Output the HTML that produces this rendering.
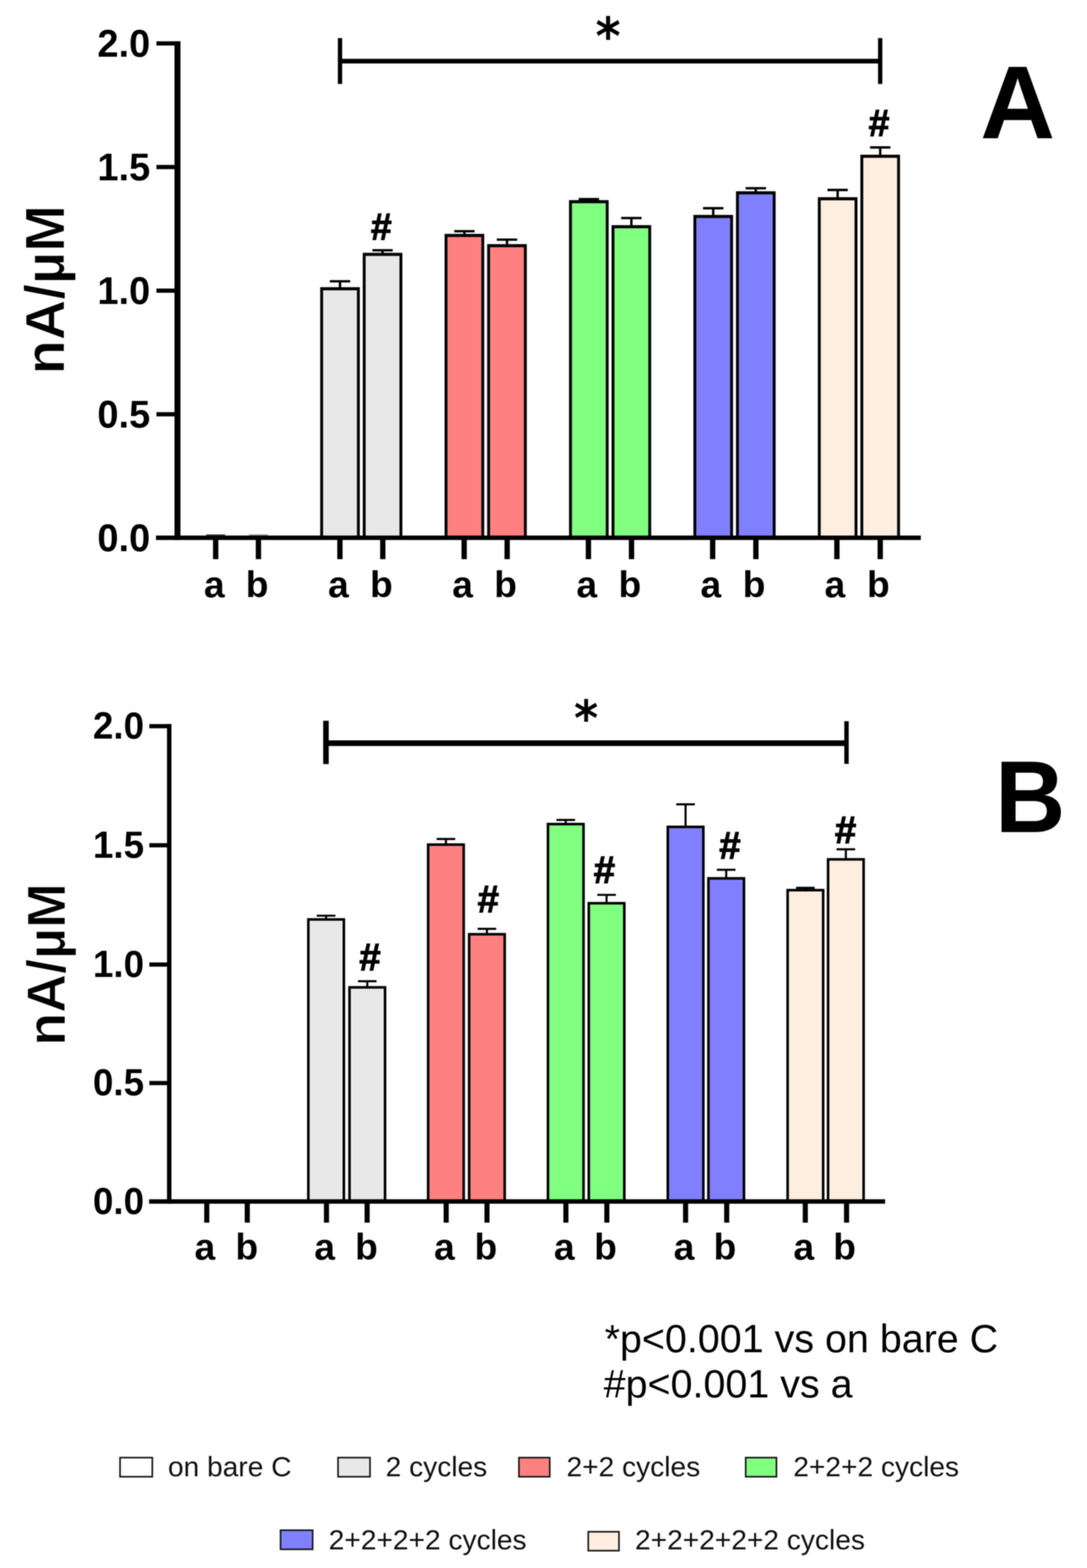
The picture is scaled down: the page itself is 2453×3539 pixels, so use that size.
<!DOCTYPE html><html><head><meta charset="utf-8"><style>html,body{margin:0;padding:0;background:#fff}svg{display:block;filter:blur(0.9px)}text{font-family:'Liberation Sans', Arial, sans-serif}</style></head><body>
<svg width="2453" height="3539" viewBox="0 0 2453 3539">
<rect width="2453" height="3539" fill="#fff"/>
<line x1="767.30" y1="634.90" x2="767.30" y2="649.20" stroke="#000" stroke-width="5.4"/>
<line x1="744.30" y1="634.90" x2="790.30" y2="634.90" stroke="#000" stroke-width="5.4"/>
<rect x="722.6" y="648.2" width="89.4" height="561.8" fill="#000"/>
<rect x="729.1" y="655.2" width="76.4" height="554.8" fill="#E8E8E8"/>
<line x1="863.35" y1="564.90" x2="863.35" y2="571.60" stroke="#000" stroke-width="5.4"/>
<line x1="840.35" y1="564.90" x2="886.35" y2="564.90" stroke="#000" stroke-width="5.4"/>
<rect x="818.6" y="570.6" width="89.4" height="639.4" fill="#000"/>
<rect x="825.1" y="577.6" width="76.4" height="632.4" fill="#E8E8E8"/>
<line x1="1048.04" y1="521.90" x2="1048.04" y2="528.90" stroke="#000" stroke-width="5.4"/>
<line x1="1025.04" y1="521.90" x2="1071.04" y2="521.90" stroke="#000" stroke-width="5.4"/>
<rect x="1003.3" y="527.9" width="89.4" height="682.1" fill="#000"/>
<rect x="1009.8" y="534.9" width="76.4" height="675.1" fill="#FF8080"/>
<line x1="1144.10" y1="540.90" x2="1144.10" y2="552.00" stroke="#000" stroke-width="5.4"/>
<line x1="1121.10" y1="540.90" x2="1167.10" y2="540.90" stroke="#000" stroke-width="5.4"/>
<rect x="1099.4" y="551.0" width="89.4" height="659.0" fill="#000"/>
<rect x="1105.9" y="558.0" width="76.4" height="652.0" fill="#FF8080"/>
<line x1="1328.78" y1="449.35" x2="1328.78" y2="452.70" stroke="#000" stroke-width="5.4"/>
<line x1="1305.78" y1="449.35" x2="1351.78" y2="449.35" stroke="#000" stroke-width="5.4"/>
<rect x="1284.1" y="451.7" width="89.4" height="758.3" fill="#000"/>
<rect x="1290.6" y="458.7" width="76.4" height="751.3" fill="#80FF80"/>
<line x1="1424.85" y1="492.10" x2="1424.85" y2="509.20" stroke="#000" stroke-width="5.4"/>
<line x1="1401.85" y1="492.10" x2="1447.85" y2="492.10" stroke="#000" stroke-width="5.4"/>
<rect x="1380.1" y="508.2" width="89.4" height="701.8" fill="#000"/>
<rect x="1386.6" y="515.2" width="76.4" height="694.8" fill="#80FF80"/>
<line x1="1609.52" y1="470.00" x2="1609.52" y2="486.10" stroke="#000" stroke-width="5.4"/>
<line x1="1586.52" y1="470.00" x2="1632.52" y2="470.00" stroke="#000" stroke-width="5.4"/>
<rect x="1564.8" y="485.1" width="89.4" height="724.9" fill="#000"/>
<rect x="1571.3" y="492.1" width="76.4" height="717.9" fill="#8080FF"/>
<line x1="1705.60" y1="424.90" x2="1705.60" y2="432.70" stroke="#000" stroke-width="5.4"/>
<line x1="1682.60" y1="424.90" x2="1728.60" y2="424.90" stroke="#000" stroke-width="5.4"/>
<rect x="1660.9" y="431.7" width="89.4" height="778.3" fill="#000"/>
<rect x="1667.4" y="438.7" width="76.4" height="771.3" fill="#8080FF"/>
<line x1="1890.26" y1="428.70" x2="1890.26" y2="446.10" stroke="#000" stroke-width="5.4"/>
<line x1="1867.26" y1="428.70" x2="1913.26" y2="428.70" stroke="#000" stroke-width="5.4"/>
<rect x="1845.6" y="445.1" width="89.4" height="764.9" fill="#000"/>
<rect x="1852.1" y="452.1" width="76.4" height="757.9" fill="#FEEEDF"/>
<line x1="1986.35" y1="332.80" x2="1986.35" y2="350.20" stroke="#000" stroke-width="5.4"/>
<line x1="1963.35" y1="332.80" x2="2009.35" y2="332.80" stroke="#000" stroke-width="5.4"/>
<rect x="1941.6" y="349.2" width="89.4" height="860.8" fill="#000"/>
<rect x="1948.1" y="356.2" width="76.4" height="853.8" fill="#FEEEDF"/>
<rect x="465.2" y="1206.0" width="43.0" height="4.0" fill="#444"/>
<rect x="561.7" y="1206.0" width="43.0" height="4.0" fill="#999"/>
<line x1="400.50" y1="93.00" x2="400.50" y2="1219.00" stroke="#000" stroke-width="13.5"/>
<line x1="352.00" y1="1213.80" x2="2078.00" y2="1213.80" stroke="#000" stroke-width="10"/>
<line x1="353.00" y1="98.00" x2="400.50" y2="98.00" stroke="#000" stroke-width="9.7"/>
<line x1="353.00" y1="377.00" x2="400.50" y2="377.00" stroke="#000" stroke-width="9.7"/>
<line x1="353.00" y1="656.00" x2="400.50" y2="656.00" stroke="#000" stroke-width="9.7"/>
<line x1="353.00" y1="935.00" x2="400.50" y2="935.00" stroke="#000" stroke-width="9.7"/>
<line x1="486.70" y1="1213.80" x2="486.70" y2="1262.00" stroke="#000" stroke-width="12"/>
<line x1="583.20" y1="1213.80" x2="583.20" y2="1262.00" stroke="#000" stroke-width="12"/>
<line x1="767.08" y1="1213.80" x2="767.08" y2="1262.00" stroke="#000" stroke-width="12"/>
<line x1="863.84" y1="1213.80" x2="863.84" y2="1262.00" stroke="#000" stroke-width="12"/>
<line x1="1047.46" y1="1213.80" x2="1047.46" y2="1262.00" stroke="#000" stroke-width="12"/>
<line x1="1144.48" y1="1213.80" x2="1144.48" y2="1262.00" stroke="#000" stroke-width="12"/>
<line x1="1327.84" y1="1213.80" x2="1327.84" y2="1262.00" stroke="#000" stroke-width="12"/>
<line x1="1425.12" y1="1213.80" x2="1425.12" y2="1262.00" stroke="#000" stroke-width="12"/>
<line x1="1608.22" y1="1213.80" x2="1608.22" y2="1262.00" stroke="#000" stroke-width="12"/>
<line x1="1705.76" y1="1213.80" x2="1705.76" y2="1262.00" stroke="#000" stroke-width="12"/>
<line x1="1888.60" y1="1213.80" x2="1888.60" y2="1262.00" stroke="#000" stroke-width="12"/>
<line x1="1986.40" y1="1213.80" x2="1986.40" y2="1262.00" stroke="#000" stroke-width="12"/>
<text x="0" y="0" font-size="88" font-weight="bold" text-anchor="end" transform="translate(339 128.3) scale(0.975 1)">2.0</text>
<text x="0" y="0" font-size="88" font-weight="bold" text-anchor="end" transform="translate(339 407.3) scale(0.975 1)">1.5</text>
<text x="0" y="0" font-size="88" font-weight="bold" text-anchor="end" transform="translate(339 686.3) scale(0.975 1)">1.0</text>
<text x="0" y="0" font-size="88" font-weight="bold" text-anchor="end" transform="translate(339 965.3) scale(0.975 1)">0.5</text>
<text x="0" y="0" font-size="88" font-weight="bold" text-anchor="end" transform="translate(339 1244.3) scale(0.975 1)">0.0</text>
<text x="483.6" y="1348.3" font-size="84" font-weight="bold" text-anchor="middle" >a</text>
<text x="580.2" y="1348.3" font-size="84" font-weight="bold" text-anchor="middle" >b</text>
<text x="763.7" y="1348.3" font-size="84" font-weight="bold" text-anchor="middle" >a</text>
<text x="860.6" y="1348.3" font-size="84" font-weight="bold" text-anchor="middle" >b</text>
<text x="1043.8" y="1348.3" font-size="84" font-weight="bold" text-anchor="middle" >a</text>
<text x="1141.0" y="1348.3" font-size="84" font-weight="bold" text-anchor="middle" >b</text>
<text x="1324.0" y="1348.3" font-size="84" font-weight="bold" text-anchor="middle" >a</text>
<text x="1421.3" y="1348.3" font-size="84" font-weight="bold" text-anchor="middle" >b</text>
<text x="1604.1" y="1348.3" font-size="84" font-weight="bold" text-anchor="middle" >a</text>
<text x="1701.7" y="1348.3" font-size="84" font-weight="bold" text-anchor="middle" >b</text>
<text x="1884.2" y="1348.3" font-size="84" font-weight="bold" text-anchor="middle" >a</text>
<text x="1982.1" y="1348.3" font-size="84" font-weight="bold" text-anchor="middle" >b</text>
<line x1="767.30" y1="86.00" x2="767.30" y2="189.50" stroke="#000" stroke-width="9.7"/>
<line x1="1986.30" y1="86.00" x2="1986.30" y2="189.50" stroke="#000" stroke-width="9.7"/>
<line x1="767.30" y1="137.90" x2="1986.30" y2="137.90" stroke="#000" stroke-width="10.5"/>
<text x="0" y="0" font-size="108" font-weight="bold" text-anchor="middle" transform="translate(1372.2 122.2) scale(1 1.07)" style="font-family:'DejaVu Sans', sans-serif">*</text>
<text x="860.5" y="541.2" font-size="84.5" font-weight="bold" text-anchor="middle" stroke="#000" stroke-width="2" stroke-linejoin="miter">#</text>
<text x="1983.7" y="306.5" font-size="84.5" font-weight="bold" text-anchor="middle" stroke="#000" stroke-width="2" stroke-linejoin="miter">#</text>
<text x="0" y="0" font-size="126.5" font-weight="bold" text-anchor="middle" stroke="#fff" stroke-width="2" transform="translate(145.4 653.9) rotate(-90)">nA/µM</text>
<text x="2212" y="311.8" font-size="234" font-weight="bold" text-anchor="start" >A</text>
<line x1="735.90" y1="2066.75" x2="735.90" y2="2073.30" stroke="#000" stroke-width="4.7"/>
<line x1="714.90" y1="2066.75" x2="756.90" y2="2066.75" stroke="#000" stroke-width="4.7"/>
<rect x="692.9" y="2072.3" width="86.0" height="635.7" fill="#000"/>
<rect x="698.7" y="2078.1" width="74.4" height="629.9" fill="#E8E8E8"/>
<line x1="828.80" y1="2214.60" x2="828.80" y2="2226.60" stroke="#000" stroke-width="4.7"/>
<line x1="807.80" y1="2214.60" x2="849.80" y2="2214.60" stroke="#000" stroke-width="4.7"/>
<rect x="785.8" y="2225.6" width="86.0" height="482.4" fill="#000"/>
<rect x="791.6" y="2231.4" width="74.4" height="476.6" fill="#E8E8E8"/>
<line x1="1006.29" y1="1893.70" x2="1006.29" y2="1904.40" stroke="#000" stroke-width="4.7"/>
<line x1="985.29" y1="1893.70" x2="1027.29" y2="1893.70" stroke="#000" stroke-width="4.7"/>
<rect x="963.3" y="1903.4" width="86.0" height="804.6" fill="#000"/>
<rect x="969.1" y="1909.2" width="74.4" height="798.8" fill="#FF8080"/>
<line x1="1098.80" y1="2096.35" x2="1098.80" y2="2106.70" stroke="#000" stroke-width="4.7"/>
<line x1="1077.80" y1="2096.35" x2="1119.80" y2="2096.35" stroke="#000" stroke-width="4.7"/>
<rect x="1055.8" y="2105.7" width="86.0" height="602.3" fill="#000"/>
<rect x="1061.6" y="2111.5" width="74.4" height="596.5" fill="#FF8080"/>
<line x1="1276.68" y1="1850.55" x2="1276.68" y2="1858.10" stroke="#000" stroke-width="4.7"/>
<line x1="1255.68" y1="1850.55" x2="1297.68" y2="1850.55" stroke="#000" stroke-width="4.7"/>
<rect x="1233.7" y="1857.1" width="86.0" height="850.9" fill="#000"/>
<rect x="1239.5" y="1862.9" width="74.4" height="845.1" fill="#80FF80"/>
<line x1="1368.80" y1="2019.75" x2="1368.80" y2="2036.70" stroke="#000" stroke-width="4.7"/>
<line x1="1347.80" y1="2019.75" x2="1389.80" y2="2019.75" stroke="#000" stroke-width="4.7"/>
<rect x="1325.8" y="2035.7" width="86.0" height="672.3" fill="#000"/>
<rect x="1331.6" y="2041.5" width="74.4" height="666.5" fill="#80FF80"/>
<line x1="1547.07" y1="1815.30" x2="1547.07" y2="1864.40" stroke="#000" stroke-width="4.7"/>
<line x1="1526.07" y1="1815.30" x2="1568.07" y2="1815.30" stroke="#000" stroke-width="4.7"/>
<rect x="1504.1" y="1863.4" width="86.0" height="844.6" fill="#000"/>
<rect x="1509.9" y="1869.2" width="74.4" height="838.8" fill="#8080FF"/>
<line x1="1638.80" y1="1963.05" x2="1638.80" y2="1980.60" stroke="#000" stroke-width="4.7"/>
<line x1="1617.80" y1="1963.05" x2="1659.80" y2="1963.05" stroke="#000" stroke-width="4.7"/>
<rect x="1595.8" y="1979.6" width="86.0" height="728.4" fill="#000"/>
<rect x="1601.6" y="1985.4" width="74.4" height="722.6" fill="#8080FF"/>
<line x1="1817.46" y1="2003.80" x2="1817.46" y2="2007.20" stroke="#000" stroke-width="4.7"/>
<line x1="1796.46" y1="2003.80" x2="1838.46" y2="2003.80" stroke="#000" stroke-width="4.7"/>
<rect x="1774.5" y="2006.2" width="86.0" height="701.8" fill="#000"/>
<rect x="1780.3" y="2012.0" width="74.4" height="696.0" fill="#FEEEDF"/>
<line x1="1908.80" y1="1916.85" x2="1908.80" y2="1937.70" stroke="#000" stroke-width="4.7"/>
<line x1="1887.80" y1="1916.85" x2="1929.80" y2="1916.85" stroke="#000" stroke-width="4.7"/>
<rect x="1865.8" y="1936.7" width="86.0" height="771.3" fill="#000"/>
<rect x="1871.6" y="1942.5" width="74.4" height="765.5" fill="#FEEEDF"/>
<line x1="381.90" y1="1634.00" x2="381.90" y2="2717.00" stroke="#000" stroke-width="10"/>
<line x1="336.50" y1="2711.70" x2="1997.40" y2="2711.70" stroke="#000" stroke-width="10"/>
<line x1="337.00" y1="1638.90" x2="382.00" y2="1638.90" stroke="#000" stroke-width="9.5"/>
<line x1="337.00" y1="1907.80" x2="382.00" y2="1907.80" stroke="#000" stroke-width="9.5"/>
<line x1="337.00" y1="2177.00" x2="382.00" y2="2177.00" stroke="#000" stroke-width="9.5"/>
<line x1="337.00" y1="2444.45" x2="382.00" y2="2444.45" stroke="#000" stroke-width="9.5"/>
<line x1="466.60" y1="2711.70" x2="466.60" y2="2759.50" stroke="#000" stroke-width="11.5"/>
<line x1="558.00" y1="2711.70" x2="558.00" y2="2759.50" stroke="#000" stroke-width="11.5"/>
<line x1="736.74" y1="2711.70" x2="736.74" y2="2759.50" stroke="#000" stroke-width="11.5"/>
<line x1="828.48" y1="2711.70" x2="828.48" y2="2759.50" stroke="#000" stroke-width="11.5"/>
<line x1="1006.88" y1="2711.70" x2="1006.88" y2="2759.50" stroke="#000" stroke-width="11.5"/>
<line x1="1098.96" y1="2711.70" x2="1098.96" y2="2759.50" stroke="#000" stroke-width="11.5"/>
<line x1="1277.02" y1="2711.70" x2="1277.02" y2="2759.50" stroke="#000" stroke-width="11.5"/>
<line x1="1369.44" y1="2711.70" x2="1369.44" y2="2759.50" stroke="#000" stroke-width="11.5"/>
<line x1="1547.16" y1="2711.70" x2="1547.16" y2="2759.50" stroke="#000" stroke-width="11.5"/>
<line x1="1639.92" y1="2711.70" x2="1639.92" y2="2759.50" stroke="#000" stroke-width="11.5"/>
<line x1="1817.30" y1="2711.70" x2="1817.30" y2="2759.50" stroke="#000" stroke-width="11.5"/>
<line x1="1910.40" y1="2711.70" x2="1910.40" y2="2759.50" stroke="#000" stroke-width="11.5"/>
<text x="0" y="0" font-size="85.5" font-weight="bold" text-anchor="end" transform="translate(325 1666.9) scale(0.97 1)">2.0</text>
<text x="0" y="0" font-size="85.5" font-weight="bold" text-anchor="end" transform="translate(325 1935.8) scale(0.97 1)">1.5</text>
<text x="0" y="0" font-size="85.5" font-weight="bold" text-anchor="end" transform="translate(325 2205.0) scale(0.97 1)">1.0</text>
<text x="0" y="0" font-size="85.5" font-weight="bold" text-anchor="end" transform="translate(325 2472.4) scale(0.97 1)">0.5</text>
<text x="0" y="0" font-size="85.5" font-weight="bold" text-anchor="end" transform="translate(325 2739.7) scale(0.97 1)">0.0</text>
<text x="462.3" y="2843" font-size="84" font-weight="bold" text-anchor="middle" >a</text>
<text x="557.0" y="2843" font-size="84" font-weight="bold" text-anchor="middle" >b</text>
<text x="732.6" y="2843" font-size="84" font-weight="bold" text-anchor="middle" >a</text>
<text x="826.8" y="2843" font-size="84" font-weight="bold" text-anchor="middle" >b</text>
<text x="1002.9" y="2843" font-size="84" font-weight="bold" text-anchor="middle" >a</text>
<text x="1096.5" y="2843" font-size="84" font-weight="bold" text-anchor="middle" >b</text>
<text x="1273.3" y="2843" font-size="84" font-weight="bold" text-anchor="middle" >a</text>
<text x="1366.3" y="2843" font-size="84" font-weight="bold" text-anchor="middle" >b</text>
<text x="1543.6" y="2843" font-size="84" font-weight="bold" text-anchor="middle" >a</text>
<text x="1636.0" y="2843" font-size="84" font-weight="bold" text-anchor="middle" >b</text>
<text x="1813.9" y="2843" font-size="84" font-weight="bold" text-anchor="middle" >a</text>
<text x="1905.8" y="2843" font-size="84" font-weight="bold" text-anchor="middle" >b</text>
<line x1="735.60" y1="1626.70" x2="735.60" y2="1724.40" stroke="#000" stroke-width="12.5"/>
<line x1="1910.30" y1="1627.80" x2="1910.30" y2="1723.90" stroke="#000" stroke-width="10"/>
<line x1="735.60" y1="1677.40" x2="1909.90" y2="1677.40" stroke="#000" stroke-width="12.8"/>
<text x="0" y="0" font-size="104" font-weight="bold" text-anchor="middle" transform="translate(1322.6 1660.4) scale(1 1.07)" style="font-family:'DejaVu Sans', sans-serif">*</text>
<text x="834.9" y="2190.3999999999996" font-size="87" font-weight="bold" text-anchor="middle" stroke="#000" stroke-width="2" stroke-linejoin="miter">#</text>
<text x="1102" y="2059.3999999999996" font-size="87" font-weight="bold" text-anchor="middle" stroke="#000" stroke-width="2" stroke-linejoin="miter">#</text>
<text x="1363.9" y="1992.9" font-size="87" font-weight="bold" text-anchor="middle" stroke="#000" stroke-width="2" stroke-linejoin="miter">#</text>
<text x="1647.1" y="1938.1000000000001" font-size="87" font-weight="bold" text-anchor="middle" stroke="#000" stroke-width="2" stroke-linejoin="miter">#</text>
<text x="1908.2" y="1902.6000000000001" font-size="87" font-weight="bold" text-anchor="middle" stroke="#000" stroke-width="2" stroke-linejoin="miter">#</text>
<text x="0" y="0" font-size="121.5" font-weight="bold" text-anchor="middle" stroke="#fff" stroke-width="2" transform="translate(146.5 2176.8) rotate(-90)">nA/µM</text>
<text x="0" y="0" font-size="230" font-weight="bold" transform="translate(2245.6 1878) scale(0.955 1)">B</text>
<text x="1364.4" y="3051.5" font-size="89" font-weight="normal" text-anchor="start" >*p&lt;0.001 vs on bare C</text>
<text x="1362.3" y="3153.6" font-size="89" font-weight="normal" text-anchor="start" >#p&lt;0.001 vs a</text>
<rect x="270.9" y="3289.9" width="72.8" height="43.1" fill="#FFFFFF" stroke="#151515" stroke-width="3.6"/>
<text x="378.9" y="3331.8" font-size="63.5" fill="#111">on bare C</text>
<rect x="762.8" y="3289.9" width="72.2" height="43.1" fill="#E8E8E8" stroke="#151515" stroke-width="3.6"/>
<text x="870.2" y="3331.8" font-size="63.5" fill="#111">2 cycles</text>
<rect x="1171.1" y="3289.9" width="69.5" height="43.1" fill="#FF8080" stroke="#151515" stroke-width="3.6"/>
<text x="1278.4" y="3331.8" font-size="63.5" fill="#111">2+2 cycles</text>
<rect x="1682.8" y="3289.9" width="69.4" height="43.1" fill="#80FF80" stroke="#151515" stroke-width="3.6"/>
<text x="1790.2" y="3331.8" font-size="63.5" fill="#111">2+2+2 cycles</text>
<rect x="633.1" y="3453.7" width="72.5" height="43.1" fill="#8080FF" stroke="#151515" stroke-width="3.6"/>
<text x="741.8" y="3497" font-size="63.5" fill="#111">2+2+2+2 cycles</text>
<rect x="1327.5" y="3457.2" width="69.3" height="42.7" fill="#FEEEDF" stroke="#151515" stroke-width="3.6"/>
<text x="1433" y="3497" font-size="63.5" fill="#111">2+2+2+2+2 cycles</text>
</svg></body></html>
